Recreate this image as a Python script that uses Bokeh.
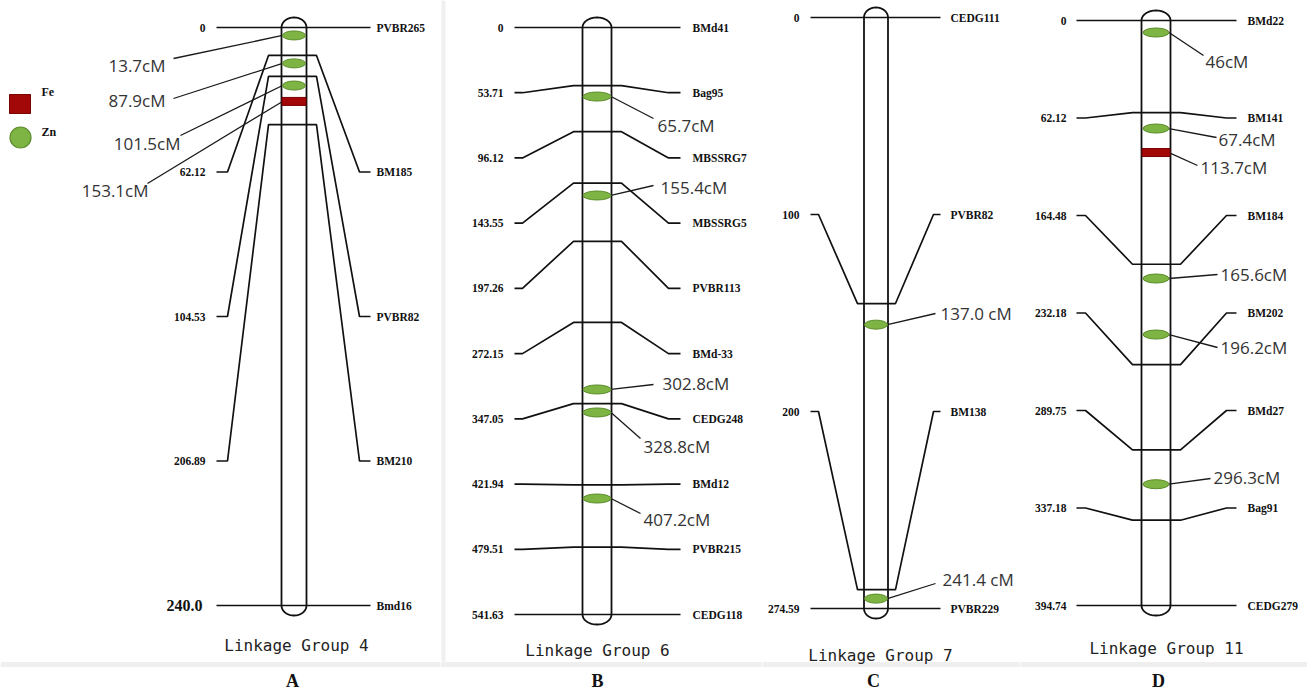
import numpy as np
from bokeh.plotting import figure
from bokeh.models import Range1d
from bokeh.layouts import row
from bokeh.core.properties import value
from bokeh.embed import file_html
from bokeh.resources import INLINE

# ---------------- data ----------------
# Linkage group 4 (A)
a_markers = ["PVBR265", "BM185", "PVBR82", "BM210", "Bmd16"]
a_cm = [0, 62.12, 104.53, 206.89, 240.0]
a_cm_text = ["0", "62.12", "104.53", "206.89", "240.0"]
a_chrom_pos = [0, 11.6, 20.3, 40.3, 240.0]      # where each marker meets the bar (axis units)
a_qtl_text = ["13.7cM", "87.9cM", "101.5cM", "153.1cM"]
a_qtl_pos = [3.3, 14.9, 24.1, 30.7]
a_qtl_trait = ["Zn", "Zn", "Zn", "Fe"]

# Linkage group 6 (B)
b_markers = ["BMd41", "Bag95", "MBSSRG7", "MBSSRG5", "PVBR113", "BMd-33",
             "CEDG248", "BMd12", "PVBR215", "CEDG118"]
b_cm = [0, 53.71, 96.12, 143.55, 197.26, 272.15, 347.05, 421.94, 479.51, 541.63]
b_cm_text = ["0", "53.71", "96.12", "143.55", "197.26", "272.15", "347.05",
             "421.94", "479.51", "541.63"]
b_chrom_pos = b_cm
b_qtl_text = ["65.7cM", "155.4cM", "302.8cM", "328.8cM", "407.2cM"]
b_qtl_pos = [63.7, 155.0, 334.0, 355.2, 434.6]
b_qtl_trait = ["Zn", "Zn", "Zn", "Zn", "Zn"]

# Linkage group 7 (C)
c_markers = ["CEDG111", "PVBR82", "BM138", "PVBR229"]
c_cm = [0, 100, 200, 274.59]
c_cm_text = ["0", "100", "200", "274.59"]
c_chrom_pos = [0, 132.9, 265.8, 274.59]
c_qtl_text = ["137.0 cM", "241.4 cM"]
c_qtl_pos = [142.7, 270.0]
c_qtl_trait = ["Zn", "Zn"]

# Linkage group 11 (D)
d_markers = ["BMd22", "BM141", "BM184", "BM202", "BMd27", "Bag91", "CEDG279"]
d_cm = [0, 62.12, 164.48, 232.18, 289.75, 337.18, 394.74]
d_cm_text = ["0", "62.12", "164.48", "232.18", "289.75", "337.18", "394.74"]
d_chrom_pos = d_cm
d_qtl_text = ["46cM", "67.4cM", "113.7cM", "165.6cM", "196.2cM", "296.3cM"]
d_qtl_pos = [8.1, 72.9, 89.1, 174.1, 211.9, 312.9]
d_qtl_trait = ["Zn", "Zn", "Fe", "Zn", "Zn", "Zn"]

legend_items = ["Fe", "Zn"]

# ---------------- style / layout ----------------
H = 695
PAGE_TOP, PAGE_BOTTOM = 0, H
LINE = "#111111"
ZN_FILL, ZN_LINE = "#7db443", "#5c8d2b"
FE_FILL, FE_LINE = "#a30808", "#7a0000"
SERIF = value("Liberation Serif")
SANS = value("Open Sans")
MONO = value("DejaVu Sans Mono")


def panel(width, y_top, y_bot, g, markers, cm, cm_text, chrom_pos,
          qtl_text, qtl_pos, qtl_trait, qtl_geo, side, title, title_xy,
          letter, letter_x, big_last=False, legend=False, sep=False):
    length = cm[-1]
    s = (y_bot - y_top) / length

    def Y(px):
        return (np.asarray(px, dtype=float) - y_top) / s

    p = figure(width=width, height=H, output_backend="svg", toolbar_location=None,
               x_range=Range1d(0, width), y_range=Range1d(float(Y(PAGE_BOTTOM)), float(Y(PAGE_TOP))),
               min_border=0, x_axis_location=None, y_axis_location=None,
               outline_line_color=None)
    p.grid.visible = False
    p.background_fill_color = "white"
    p.border_fill_color = "white"

    # faint scan artefacts: bottom band / separator
    p.segment(x0=[0], y0=[Y(664)], x1=[width], y1=[Y(664)], line_color="#efefef", line_width=5)
    if sep:
        p.segment(x0=[3], y0=[Y(PAGE_TOP)], x1=[3], y1=[Y(661)], line_color="#f0f0f0", line_width=4)

    n = len(markers)
    lab = np.linspace(0, length, n)          # labels spread evenly
    xs = [[g["xl"], g["xl2"], g["xa"], g["xb"], g["xr2"], g["xr"]] for _ in range(n)]
    ys = [[lp, lp, cp, cp, lp, lp] for lp, cp in zip(lab, chrom_pos)]
    p.multi_line(xs, ys, line_color=LINE, line_width=1.7)

    # chromosome bar with rounded ends
    cx, hw = g["cx"], g["cw"] / 2
    top, bot, cap = chrom_pos[0], chrom_pos[-1], 10 / s
    t = np.linspace(0, np.pi, 40)
    ox = np.concatenate([[cx - hw], cx - hw * np.cos(t), cx + hw * np.cos(t)])
    oy = np.concatenate([[top], bot + cap * np.sin(t), top - cap * np.sin(t)])
    p.line(ox, oy, line_color=LINE, line_width=1.8)

    # marker labels
    if big_last:
        p.text(x=[g["ll"]] * (n - 1), y=lab[:-1], text=cm_text[:-1], text_font=SERIF,
               text_font_style="bold", text_font_size="11.5px", text_align="right",
               text_baseline="middle", text_color="#111111")
        p.text(x=[g["ll"] - 3], y=[lab[-1]], text=[cm_text[-1]], text_font=SERIF,
               text_font_style="bold", text_font_size="16px", text_align="right",
               text_baseline="middle", text_color="#111111")
    else:
        p.text(x=[g["ll"]] * n, y=lab, text=cm_text, text_font=SERIF,
               text_font_style="bold", text_font_size="11.5px", text_align="right",
               text_baseline="middle", text_color="#111111")
    p.text(x=[g["lr"]] * n, y=lab, text=markers, text_font=SERIF,
           text_font_style="bold", text_font_size="11.5px", text_align="left",
           text_baseline="middle", text_color="#111111")

    # QTLs
    ew = g["ew"]
    zn_y = [v for v, tr in zip(qtl_pos, qtl_trait) if tr == "Zn"]
    fe_y = [v for v, tr in zip(qtl_pos, qtl_trait) if tr == "Fe"]
    x0 = cx + ew / 2 if side == "right" else cx - ew / 2
    p.segment(x0=[x0] * len(qtl_pos), y0=qtl_pos,
              x1=[q[2] for q in qtl_geo], y1=Y([q[3] for q in qtl_geo]),
              line_color="#1a1a1a", line_width=1.3)
    if zn_y:
        p.ellipse(x=[cx] * len(zn_y), y=zn_y, width=ew, height=9 / s,
                  fill_color=ZN_FILL, line_color=ZN_LINE, line_width=1)
    if fe_y:
        p.rect(x=[cx] * len(fe_y), y=fe_y, width=g["cw"] - 1, height=8 / s,
               fill_color=FE_FILL, line_color=FE_LINE, line_width=1)
    p.text(x=[q[0] for q in qtl_geo], y=Y([q[1] for q in qtl_geo]), text=qtl_text,
           text_font=SANS, text_font_size="17px", text_color="#333333",
           text_align="left" if side == "right" else "right", text_baseline="middle")

    # title and panel letter
    p.text(x=[title_xy[0]], y=[Y(title_xy[1])], text=[title], text_font=MONO,
           text_font_size="16px", text_color="#222222", text_align="center",
           text_baseline="middle")
    p.text(x=[letter_x], y=[Y(680)], text=[letter], text_font=SERIF,
           text_font_style="bold", text_font_size="18px", text_color="#111111",
           text_align="center", text_baseline="middle")

    if legend:
        p.rect(x=[19.5], y=[Y(103.5)], width=21, height=19 / s,
               fill_color=FE_FILL, line_color=FE_LINE)
        p.ellipse(x=[20], y=[Y(137)], width=21, height=21 / s,
                  fill_color=ZN_FILL, line_color=ZN_LINE, line_width=1.2)
        p.text(x=[41, 41], y=Y([91, 131]), text=legend_items, text_font=SERIF,
               text_font_style="bold", text_font_size="12px", text_color="#111111",
               text_align="left", text_baseline="middle")
    return p


gA = dict(xl=216, xl2=227, xa=268, xb=316, xr2=359, xr=370, cx=293.5, cw=25, ew=23, ll=205, lr=376)
gB = dict(xl=74, xl2=82, xa=133, xb=181, xr2=228, xr=240, cx=156.5, cw=29, ew=28, ll=63, lr=252)
gC = dict(xl=48, xl2=56, xa=95, xb=133, xr2=171, xr=178, cx=113.5, cw=24, ew=23, ll=37, lr=188)
gD = dict(xl=56, xl2=65, xa=112, xb=160, xr2=206, xr=216, cx=135.5, cw=29, ew=26, ll=46, lr=227)

# (text x, text y, leader end x, leader end y) for each QTL label
qA = [(165, 65, 173, 58), (165, 100, 173, 98), (180, 143, 180, 135), (148, 190, 147, 183)]
qB = [(217, 125, 213, 118), (220, 187, 213, 185), (222, 383, 213, 384),
      (203, 446, 200, 438), (203, 519, 200, 513)]
qC = [(178, 313, 173, 313), (180, 579, 173, 583)]
qD = [(185, 61, 183, 55), (198, 139, 196, 137), (180, 167, 177, 165),
      (200, 274, 197, 274), (200, 347, 197, 347), (193, 477, 190, 478)]

pA = panel(440, 27, 605, gA, a_markers, a_cm, a_cm_text, a_chrom_pos,
           a_qtl_text, a_qtl_pos, a_qtl_trait, qA, "left", "Linkage Group 4", (296, 645),
           "A", 292, big_last=True, legend=True)
pB = panel(322, 27, 614, gB, b_markers, b_cm, b_cm_text, b_chrom_pos,
           b_qtl_text, b_qtl_pos, b_qtl_trait, qB, "right", "Linkage Group 6", (157, 650),
           "B", 157, sep=True)
pC = panel(258, 17, 608, gC, c_markers, c_cm, c_cm_text, c_chrom_pos,
           c_qtl_text, c_qtl_pos, c_qtl_trait, qC, "right", "Linkage Group 7", (118, 655),
           "C", 111)
pD = panel(287, 20, 605, gD, d_markers, d_cm, d_cm_text, d_chrom_pos,
           d_qtl_text, d_qtl_pos, d_qtl_trait, qD, "right", "Linkage Group 11", (146, 648),
           "D", 138)

layout = row(pA, pB, pC, pD)
open("out.html", "w").write(file_html(layout, INLINE))
